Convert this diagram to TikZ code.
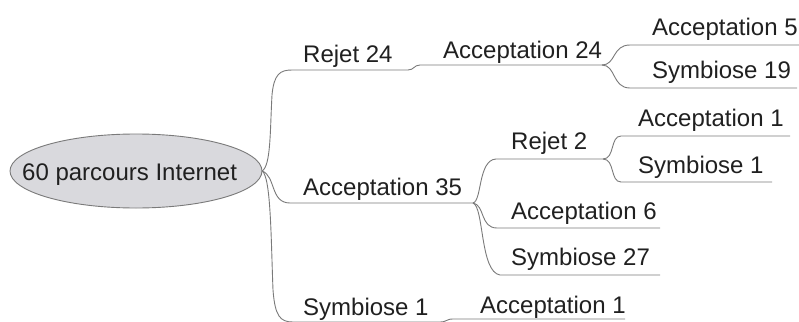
\documentclass[tikz,border=0pt]{standalone}
\usepackage{fontspec}
\setmainfont{Liberation Sans}
\usetikzlibrary{shapes.geometric}
\definecolor{linegray}{HTML}{7A7A7A}
\definecolor{txt}{HTML}{202020}
\definecolor{rootfill}{HTML}{D9D9DD}
\begin{document}
\begin{tikzpicture}[x=1pt,y=-1pt,
  lbl/.style={anchor=base west,inner sep=0pt,font=\fontsize{24}{28}\selectfont,text=txt},
  rootnode/.style={ellipse,draw=linegray,line width=0.9pt,fill=rootfill,minimum width=252pt,minimum height=74pt,inner sep=0pt,font=\fontsize{24.5}{28}\selectfont,text=txt},
  conn/.style={draw=linegray,line width=0.9pt}]
\useasboundingbox (0,0) rectangle (799,321);
\fill[white] (0,0) rectangle (799,321);
% root
\node[rootnode] (root) at (136,171) {};
\node[lbl] (roottext) at (22,180) {60 parcours Internet};
% labels
\node[lbl] (r24) at (303,63) {Rejet 24};
\node[lbl] (a24) at (443,58) {Acceptation 24};
\node[lbl] (a5) at (652,36) {Acceptation 5};
\node[lbl] (s19) at (652,78) {Symbiose 19};
\node[lbl] (a35) at (303,195) {Acceptation 35};
\node[lbl] (r2) at (511,149) {Rejet 2};
\node[lbl] (a1u) at (638,126) {Acceptation 1};
\node[lbl] (s1s) at (638,173) {Symbiose 1};
\node[lbl] (a6) at (511,219) {Acceptation 6};
\node[lbl] (s27) at (511,265) {Symbiose 27};
\node[lbl] (s1b) at (303,315) {Symbiose 1};
\node[lbl] (a1b) at (480,313) {Acceptation 1};
% junction coordinates
\coordinate (rootpt) at (262,171);
\coordinate (r24s) at (292,70);
\coordinate (r24e) at (408,70);
\coordinate (a24s) at (420,65);
\coordinate (a24e) at (602,65);
\coordinate (a5s) at (630,45);
\coordinate (a5e) at (799,45);
\coordinate (s19s) at (630,88);
\coordinate (s19e) at (797,88);
\coordinate (a35s) at (290,203);
\coordinate (a35e) at (473,203);
\coordinate (r2s) at (496,159);
\coordinate (r2e) at (603,159);
\coordinate (a1us) at (621,136);
\coordinate (a1ue) at (790,136);
\coordinate (s1ss) at (621,182);
\coordinate (s1se) at (772,182);
\coordinate (a6s) at (497,228);
\coordinate (a6e) at (660,228);
\coordinate (s27s) at (500,275);
\coordinate (s27e) at (660,275);
\coordinate (s1bs) at (293,322);
\coordinate (s1be) at (440,322);
\coordinate (a1bs) at (453,319);
\coordinate (a1be) at (625,319);
% connectors
\draw[conn] (rootpt) .. controls (271,166) and (270,130) .. (272,95) .. controls (274,74) and (280,70) .. (r24s) -- (r24e)
  .. controls (414,70) and (414,65) .. (a24s) -- (a24e);
\draw[conn] (a24e) .. controls (616,65) and (612,45) .. (a5s) -- (a5e);
\draw[conn] (a24e) .. controls (616,65) and (612,88) .. (s19s) -- (s19e);
\draw[conn] (rootpt) .. controls (276,176) and (270,203) .. (a35s) -- (a35e);
\draw[conn] (a35e) .. controls (482,201) and (478,160) .. (r2s) -- (r2e);
\draw[conn] (r2e) .. controls (615,159) and (610,136) .. (a1us) -- (a1ue);
\draw[conn] (r2e) .. controls (615,159) and (610,182) .. (s1ss) -- (s1se);
\draw[conn] (a35e) .. controls (485,205) and (480,228) .. (a6s) -- (a6e);
\draw[conn] (a35e) .. controls (484,207) and (480,272) .. (s27s) -- (s27e);
\draw[conn] (rootpt) .. controls (271,176) and (271,240) .. (273,290) .. controls (275,316) and (280,322) .. (s1bs) -- (s1be)
  .. controls (447,322) and (446,319) .. (a1bs) -- (a1be);
\end{tikzpicture}
\end{document}
